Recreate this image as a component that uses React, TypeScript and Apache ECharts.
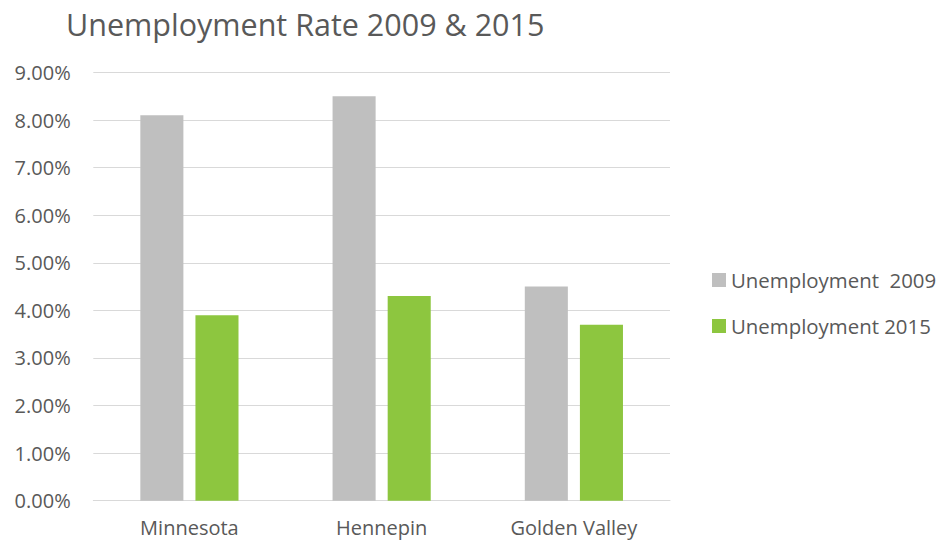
import React, { useEffect, useRef } from "react";
import * as echarts from "echarts";

const categories = ["Minnesota", "Hennepin", "Golden Valley"];
const unemployment2009 = [8.1, 8.5, 4.5];
const unemployment2015 = [3.9, 4.3, 3.7];
const seriesNames = ["Unemployment  2009", "Unemployment 2015"];

const FONT = "'Open Sans', sans-serif";
const TEXT = "#595959";

export default function App() {
  const ref = useRef<HTMLDivElement>(null);
  useEffect(() => {
    if (!ref.current) return;
    const chart = echarts.init(ref.current, undefined, { renderer: "svg" });
    chart.setOption({
      animation: false,
      backgroundColor: "#ffffff",
      title: {
        text: "Unemployment Rate 2009 & 2015",
        left: 66,
        top: 8,
        padding: 0,
        textStyle: { fontFamily: FONT, fontSize: 30.5, fontWeight: "normal", color: TEXT },
      },
      legend: {
        orient: "vertical",
        left: 712,
        top: 270,
        padding: 0,
        itemWidth: 14,
        itemHeight: 14,
        itemGap: 26,
        icon: "rect",
        textStyle: { fontFamily: FONT, fontSize: 20.4, color: TEXT },
        data: seriesNames,
      },
      grid: { left: 93.3, right: 272, top: 72.5, bottom: 41.3, containLabel: false },
      xAxis: {
        type: "category",
        data: categories,
        axisLine: { show: true, lineStyle: { color: "#D9D9D9", width: 1 } },
        axisTick: { show: false },
        axisLabel: { fontFamily: FONT, fontSize: 20, color: TEXT, margin: 17, lineHeight: 20 },
      },
      yAxis: {
        type: "value",
        min: 0,
        max: 9,
        interval: 1,
        axisLine: { show: false },
        axisTick: { show: false },
        splitLine: { lineStyle: { color: "#D9D9D9", width: 1 } },
        axisLabel: {
          fontFamily: FONT,
          fontSize: 20,
          color: TEXT,
          margin: 22.6,
          formatter: (v: number) => v.toFixed(2) + "%",
        },
      },
      series: [
        {
          name: seriesNames[0],
          type: "bar",
          data: unemployment2009,
          barWidth: "22.4%",
          barGap: "28%",
          itemStyle: { color: "#BFBFBF" },
        },
        {
          name: seriesNames[1],
          type: "bar",
          data: unemployment2015,
          barWidth: "22.4%",
          itemStyle: { color: "#8DC63F" },
        },
      ],
    });
    return () => chart.dispose();
  }, []);
  return (
    <div
      ref={ref}
      style={{ position: "fixed", left: 0, top: 0, width: 942, height: 542 }}
    />
  );
}
